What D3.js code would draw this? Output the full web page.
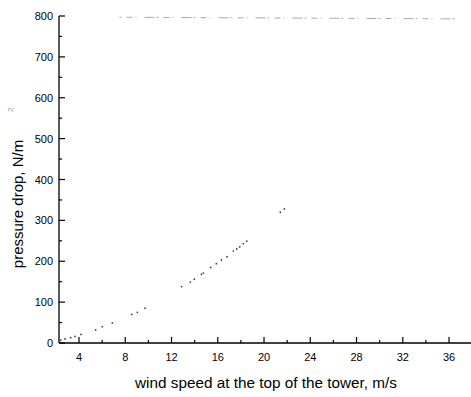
<!DOCTYPE html>
<html><head><meta charset="utf-8">
<script src="https://cdn.jsdelivr.net/npm/d3@7"></script>
<style>body{margin:0;background:#fff}svg{display:block}</style>
</head><body>
<svg id="c" width="471" height="397"></svg>
<script>
const windSpeed = [2.42,2.79,3.28,3.65,4.17,5.44,6.02,6.88,8.56,9.04,9.71,12.88,13.63,13.97,14.58,14.75,15.39,15.88,16.31,16.80,17.35,17.64,17.90,18.21,18.51,21.41,21.76];
const pressureDrop = [7,10,13,16,21,32,40,49,70,75,85,138,149,156,168,171,185,194,203,211,225,230,235,243,249,320,328];
const xTicks = [4,8,12,16,20,24,28,32,36];
const xMinor = [6,10,14,18,22,26,30,34];
const yTicks = [0,100,200,300,400,500,600,700,800];
const yMinor = [50,150,250,350,450,550,650,750];
const xLabel = "wind speed at the top of the tower, m/s";
const yLabel = "pressure drop, N/m";
const topFrame = [[7.5,797],[36.5,793]];

const svg = d3.select("#c");
const x = d3.scaleLinear().domain([2.27,37.9]).range([59,471]);
const y = d3.scaleLinear().domain([0,800]).range([343,16]);
const font = "Liberation Sans, Arial, sans-serif";

// faint broken top frame
svg.append("line").attr("x1",x(topFrame[0][0])).attr("x2",x(topFrame[1][0]))
  .attr("y1",y(topFrame[0][1])).attr("y2",y(topFrame[1][1]))
  .attr("stroke","#aaa").attr("stroke-width",1).attr("stroke-dasharray","2,5,6,3,1,8,10,2");

// x axis
const gx = svg.append("g").attr("transform","translate(0,343)");
gx.append("line").attr("x1",59).attr("x2",471).attr("stroke","#000").attr("stroke-width",1.3);
gx.selectAll(".mj").data(xTicks).join("line").attr("x1",d=>x(d)).attr("x2",d=>x(d)).attr("y1",0).attr("y2",-6).attr("stroke","#000").attr("stroke-width",1.2);
gx.selectAll(".mn").data(xMinor).join("line").attr("x1",d=>x(d)).attr("x2",d=>x(d)).attr("y1",0).attr("y2",-3).attr("stroke","#000").attr("stroke-width",1.2);
gx.selectAll("text").data(xTicks).join("text").attr("x",d=>x(d)).attr("y",18).attr("text-anchor","middle")
  .attr("font-family",font).attr("font-size",11).text(d=>d);

// y axis
const gy = svg.append("g").attr("transform","translate(59,0)");
gy.append("line").attr("y1",16).attr("y2",343).attr("stroke","#000").attr("stroke-width",1.3);
gy.selectAll(".mj").data(yTicks).join("line").attr("y1",d=>y(d)).attr("y2",d=>y(d)).attr("x1",0).attr("x2",6).attr("stroke","#000").attr("stroke-width",1.2);
gy.selectAll(".mn").data(yMinor).join("line").attr("y1",d=>y(d)).attr("y2",d=>y(d)).attr("x1",0).attr("x2",3).attr("stroke","#000").attr("stroke-width",1.2);
gy.selectAll("text").data(yTicks).join("text").attr("x",-6).attr("y",d=>y(d)+4).attr("text-anchor","end")
  .attr("font-family",font).attr("font-size",11).text(d=>d);

// data dots
svg.selectAll(".pt").data(windSpeed).join("circle")
  .attr("cx",(d)=>x(d)).attr("cy",(d,i)=>y(pressureDrop[i])).attr("r",0.9).attr("fill","#444");

// labels
svg.append("text").attr("x",266).attr("y",388).attr("text-anchor","middle")
  .attr("font-family",font).attr("font-size",15.3).text(xLabel);
const yl = svg.append("text").attr("transform","translate(23,204) rotate(-90)").attr("text-anchor","middle")
  .attr("font-family",font).attr("font-size",15);
yl.append("tspan").text(yLabel);
const yl2 = svg.append("text").attr("transform","translate(13,112) rotate(-90)")
  .attr("font-family",font).attr("font-size",8).attr("fill","#999").text("2");
</script>
</body></html>
